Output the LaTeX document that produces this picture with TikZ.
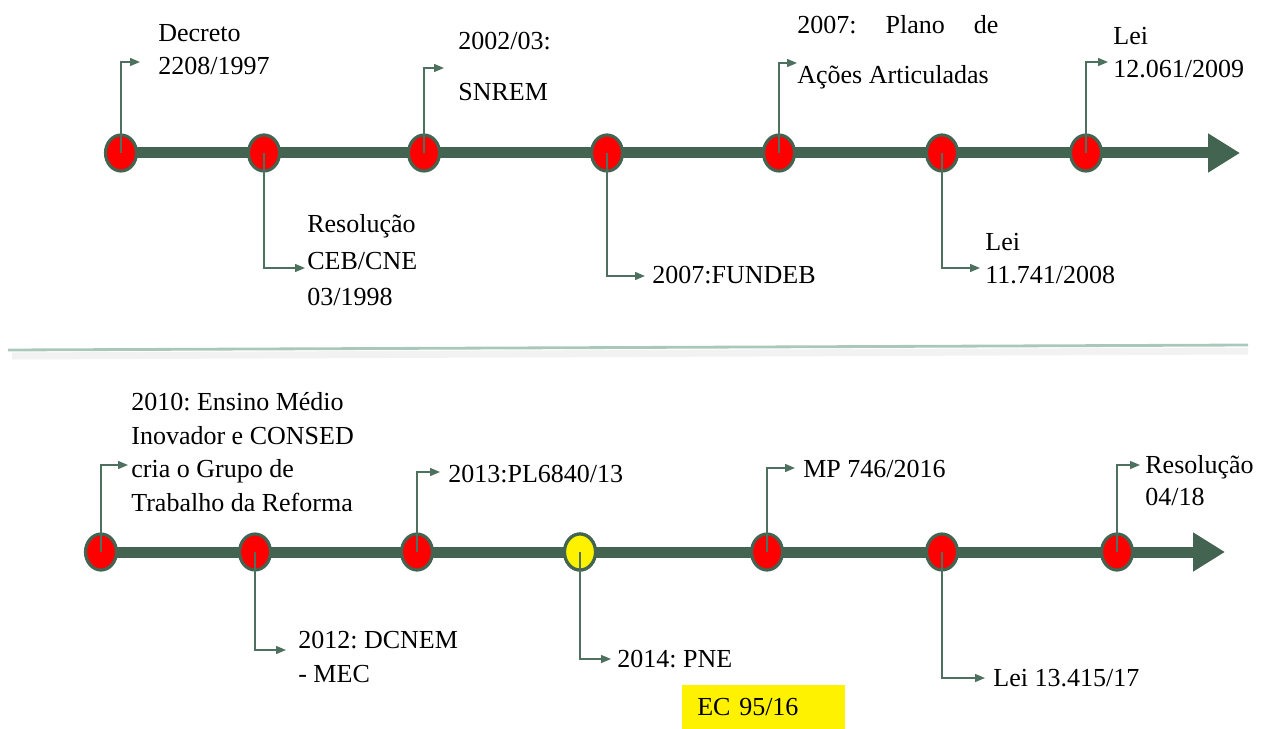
\documentclass[tikz,border=0pt]{standalone}
\usepackage{fontspec}
\setmainfont{Liberation Serif}
\frenchspacing
\usetikzlibrary{arrows.meta,shapes.geometric}
\definecolor{verde}{RGB}{66,100,80}
\definecolor{verdec}{RGB}{78,112,94}
\definecolor{cinza}{RGB}{170,200,185}

\begin{document}
\begin{tikzpicture}[x=0.02cm,y=-0.02cm,
  eixo/.style={line width=0.22cm,verde,-{Triangle[length=0.64cm,width=0.74cm]}},
  marco/.style={ellipse,draw=verde,line width=1.8pt,fill=red,minimum width=0.62cm,minimum height=0.72cm,inner sep=0pt},
  liga/.style={draw=verdec,line width=0.8pt,-{Triangle[length=0.2cm,width=0.16cm]}},
  txt/.style={anchor=base west,align=left,inner sep=0pt,font=\fontsize{14.8pt}{19pt}\selectfont}]
\useasboundingbox (0,0) rectangle (1270,729);

%linha de cima
\coordinate (i1) at (115,153);
\coordinate (f1) at (1240,153);
\draw[eixo] (i1) -- (f1);
\foreach \n/\x in {1/121,2/264,3/424,4/607,5/779,6/942,7/1086}
    \node[marco] (a\n) at (\x,153) {};

%textos de cima (base = ultima linha)
\node[txt] (t1) at (158,75) {Decreto\\2208/1997};
\node[txt,font=\fontsize{14.8pt}{20.8pt}\selectfont] (t2) at (307,306) {Resolução\\CEB/CNE\\03/1998};
\node[txt] (t3) at (458,101) {2002/03:\\[0.36cm]SNREM};
\node[txt] (t4) at (652,284) {2007:FUNDEB};
\node[txt] (t5) at (797,84) {\makebox[4.02cm][s]{2007: Plano de}\\[0.34cm]Ações Articuladas};
\node[txt] (t6) at (985,284) {Lei\\11.741/2008};
\node[txt] (t7) at (1113,78) {Lei\\12.061/2009};

%setas de cima
\coordinate (e1) at (140,62);
\coordinate (e2) at (305,268);
\coordinate (e3) at (444,68);
\coordinate (e4) at (645,276);
\coordinate (e5) at (797,63);
\coordinate (e6) at (980,268);
\coordinate (e7) at (1108,62);
\foreach \n in {1,...,7}
    \draw[liga] (a\n.center) |- (e\n);

%separador
\draw[line width=4pt,black!5] (12,356) -- (1248,351);
\draw[line width=1.6pt,cinza] (8,350) -- (1248,345);

%linha de baixo
\coordinate (i2) at (95,552);
\coordinate (f2) at (1225,552);
\draw[eixo] (i2) -- (f2);
\foreach \n/\x in {1/101,2/255,3/417,4/580,5/767,6/942,7/1117}
    \node[marco] (b\n) at (\x,552) {};
\node[marco,fill=yellow] at (b4) {};

%textos de baixo
\node[txt] (s1) at (131,511) {2010: Ensino Médio\\Inovador e CONSED\\cria o Grupo de\\Trabalho da Reforma};
\node[txt] (s2) at (298,682) {2012: DCNEM\\- MEC};
\node[txt] (s3) at (448,482) {2013:PL6840/13};
\node[txt] (s4) at (617,667) {2014: PNE};
\node[txt] (s5) at (803,477) {MP 746/2016};
\node[txt] (s6) at (993,686) {Lei 13.415/17};
\node[txt,font=\fontsize{14.8pt}{17.8pt}\selectfont] (s7) at (1145,505) {Resolução\\04/18};
\node[anchor=west,fill=yellow,text width=2.66cm,inner xsep=0.3cm,minimum height=0.88cm,
    font=\fontsize{14.8pt}{19pt}\selectfont] (ec) at (682,707) {EC 95/16};

%setas de baixo
\coordinate (d1) at (128,465);
\coordinate (d2) at (286,650);
\coordinate (d3) at (440,472);
\coordinate (d4) at (611,659);
\coordinate (d5) at (795,468);
\coordinate (d6) at (985,678);
\coordinate (d7) at (1140,465);
\foreach \n in {1,...,7}
    \draw[liga] (b\n.center) |- (d\n);
\end{tikzpicture}
\end{document}
